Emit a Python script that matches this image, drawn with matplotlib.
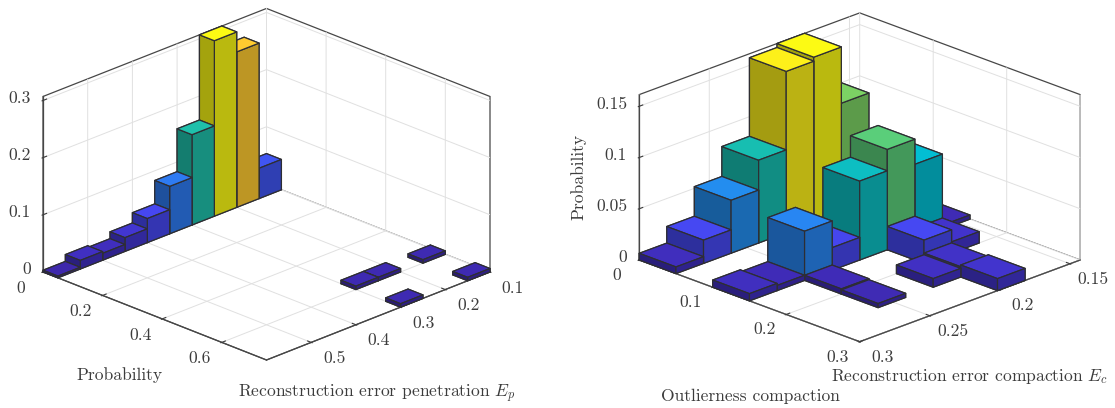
import numpy as np
import matplotlib
matplotlib.use("Agg")
import matplotlib.pyplot as plt
from matplotlib.colors import LinearSegmentedColormap
from mpl_toolkits.mplot3d import proj3d

plt.rcParams['font.family'] = ['cmr10', 'DejaVu Serif']
plt.rcParams['mathtext.fontset'] = 'cm'
plt.rcParams['axes.unicode_minus'] = False
plt.rcParams['axes.formatter.use_mathtext'] = True

# ---------- data: left panel ----------
left_ep_bin = [9, 8, 7, 6, 5, 4, 3, 2, 1, 0, 0, 0, 2, 3, 3]
left_pr_bin = [0, 0, 0, 0, 0, 0, 0, 0, 0, 0, 14, 11, 11, 11, 14]
left_height = [0.003, 0.015, 0.012, 0.024, 0.042, 0.083, 0.158, 0.307, 0.272, 0.053,
               0.006, 0.006, 0.006, 0.006, 0.006]
left_ep_ticks = [0.1, 0.2, 0.3, 0.4, 0.5]
left_ep_labels = ['0.1', '0.2', '0.3', '0.4', '0.5']
left_pr_ticks = [0, 0.2, 0.4, 0.6]
left_pr_labels = ['0', '0.2', '0.4', '0.6']
left_z_ticks = [0, 0.1, 0.2, 0.3]
left_z_labels = ['0', '0.1', '0.2', '0.3']

# ---------- data: right panel ----------
right_ec_bin = [7, 6, 5, 4, 3, 2, 1, 2, 3, 1, 5, 4, 7, 6, 5, 5, 2, 1, 0, 3, 2, 2]
right_ol_bin = [0, 0, 0, 0, 0, 0, 0, 2, 2, 2, 2, 2, 2, 2, 3, 4, 3, 3, 2, 4, 4, 5]
right_height = [0.0065, 0.0227, 0.0516, 0.0808, 0.1575, 0.1614, 0.1065, 0.098, 0.077,
                0.0734, 0.048, 0.022, 0.007, 0.005, 0.005, 0.004, 0.0227, 0.011, 0.004,
                0.0084, 0.010, 0.0117]
right_ec_ticks = [0.15, 0.2, 0.25, 0.3]
right_ec_labels = ['0.15', '0.2', '0.25', '0.3']
right_ol_ticks = [0, 0.1, 0.2, 0.3]
right_ol_labels = ['0', '0.1', '0.2', '0.3']
right_z_ticks = [0, 0.05, 0.1, 0.15]
right_z_labels = ['0', '0.05', '0.1', '0.15']

W, H = 1115, 408
TXT = '#3c3c3c'
LINE = '#474747'
EDGE = '#2e2e33'
FS = 12.6

parula = LinearSegmentedColormap.from_list('parula_like', [
    (0.00, (61/255, 38/255, 168/255)),
    (0.07, (66/255, 52/255, 205/255)),
    (0.14, (70/255, 72/255, 242/255)),
    (0.30, (40/255, 135/255, 242/255)),
    (0.45, (0/255, 190/255, 215/255)),
    (0.50, (22/255, 190/255, 178/255)),
    (0.60, (85/255, 205/255, 125/255)),
    (0.66, (125/255, 210/255, 100/255)),
    (0.80, (215/255, 192/255, 62/255)),
    (0.88, (255/255, 200/255, 50/255)),
    (1.00, (252/255, 250/255, 20/255)),
])

fig = plt.figure(figsize=(W/100, H/100), dpi=100)


def corner_px(ax, x, y, z):
    xs, ys, _ = proj3d.proj_transform(x, y, z, ax.get_proj())
    return ax.transData.transform((xs, ys))


def nudge_label(lab, ddx, ddy):
    # tick labels get their place from the 3D axis at draw time; offset that place
    base = lab.set_position
    lab.set_position = lambda xy: base((xy[0]+ddx, xy[1]+ddy))


def panel(front, span, elev, aspect, xlim, ylim, zlim, xbin, ybin, heights, bw,
          xticks, xlabels, yticks, ylabels, zticks, zlabels):
    side = 400.0
    px, py = front[0], H-front[1]
    ax = fig.add_axes([0.3, 0.0, side/W, side/H],
                      projection='3d', proj_type='ortho', computed_zorder=False)
    ax.view_init(elev=elev, azim=45)
    ax.set_box_aspect((1, 1, aspect))
    ax.set_xlim(*xlim, view_margin=0)
    ax.set_ylim(*ylim, view_margin=0)
    ax.set_zlim(*zlim, view_margin=0)
    ax.patch.set_alpha(0)

    # scale and shift the axes box so the floor corners land where they should
    ax.apply_aspect()
    a = corner_px(ax, xlim[1], ylim[0], zlim[0])
    b = corner_px(ax, xlim[0], ylim[1], zlim[0])
    side = side * span / abs(b[0]-a[0])
    ax.set_position([0.3, 0.0, side/W, side/H])
    ax.apply_aspect()
    f = corner_px(ax, xlim[1], ylim[1], zlim[0])
    ax.set_position([0.3+(px-f[0])/W, (py-f[1])/H, side/W, side/H])
    ax.apply_aspect()

    top = np.max(heights)
    order = np.lexsort((ybin, xbin))
    for n, k in enumerate(order):
        rgb = np.array(parula(heights[k]/top))[:3]
        faces = [rgb, rgb, rgb*0.65, rgb*0.74, rgb*0.65, rgb*0.65]
        ax.bar3d(xlim[0]+xbin[k]*bw[0], ylim[0]+ybin[k]*bw[1], 0, bw[0], bw[1], heights[k],
                 color=faces, shade=False, edgecolor=EDGE, linewidth=0.9, zorder=5+n)

    ax.set_xticks(xticks, labels=xlabels)
    ax.set_yticks(yticks, labels=ylabels)
    ax.set_zticks(zticks, labels=zlabels)
    ax.tick_params(axis='both', labelsize=FS, colors=TXT, pad=3)
    for axis in (ax.xaxis, ax.yaxis, ax.zaxis):
        axis.set_pane_color((1, 1, 1, 1))
        axis.pane.set_edgecolor(LINE)
        axis.pane.set_linewidth(0.9)
        axis.line.set_color(LINE)
        axis.line.set_linewidth(0.9)
        axis._axinfo['grid'].update(color='#e0e0e0', linewidth=0.7)
        axis._axinfo['tick'].update(inward_factor=0.05, outward_factor=0.2,
                                    color=LINE)
        axis._axinfo['tick']['linewidth'] = {True: 0.8, False: 0.8}
    o = ax.transData.transform((0, 0))
    ux = ax.transData.transform((1, 0))[0]-o[0]
    uy = ax.transData.transform((0, 1))[1]-o[1]
    nudges = ((ax.get_xticklabels(), 9, 8, 'center'),
              (ax.get_yticklabels(), -8, 8, 'center'),
              (ax.get_zticklabels(), 16, 10, 'right'))
    for labs, dx, dy, ha in nudges:
        for lab in labs:
            lab.set_color(TXT)
            lab.set_fontsize(FS)
            lab.set_ha(ha)
            nudge_label(lab, dx/ux, dy/uy)
    return ax


panel((266.5, 360), 447, 23.2, 0.604, (0.1, 0.6), (0, 0.75), (0, 0.307),
      left_ep_bin, left_pr_bin, np.array(left_height), (0.05, 0.05),
      left_ep_ticks, left_ep_labels, left_pr_ticks, left_pr_labels, left_z_ticks, left_z_labels)

panel((859.7, 341.7), 441, 21.75, 0.571, (0.1427, 0.3), (0, 0.3), (0, 0.1614),
      right_ec_bin, right_ol_bin, np.array(right_height), (0.01966, 0.05),
      right_ec_ticks, right_ec_labels, right_ol_ticks, right_ol_labels, right_z_ticks, right_z_labels)


def label(px, py, s, rot=0):
    fig.text(px/W, 1-py/H, s, ha='center', va='center', rotation=rot,
             fontsize=FS, color=TXT)


label(119, 375, 'Probability')
label(377, 394, r'Reconstruction error penetration $E_p$')
label(579, 177, 'Probability', rot=90)
label(970, 376, r'Reconstruction error compaction $E_c$')
label(750, 396, 'Outlierness compaction')

fig.savefig('out.png', dpi=100)
